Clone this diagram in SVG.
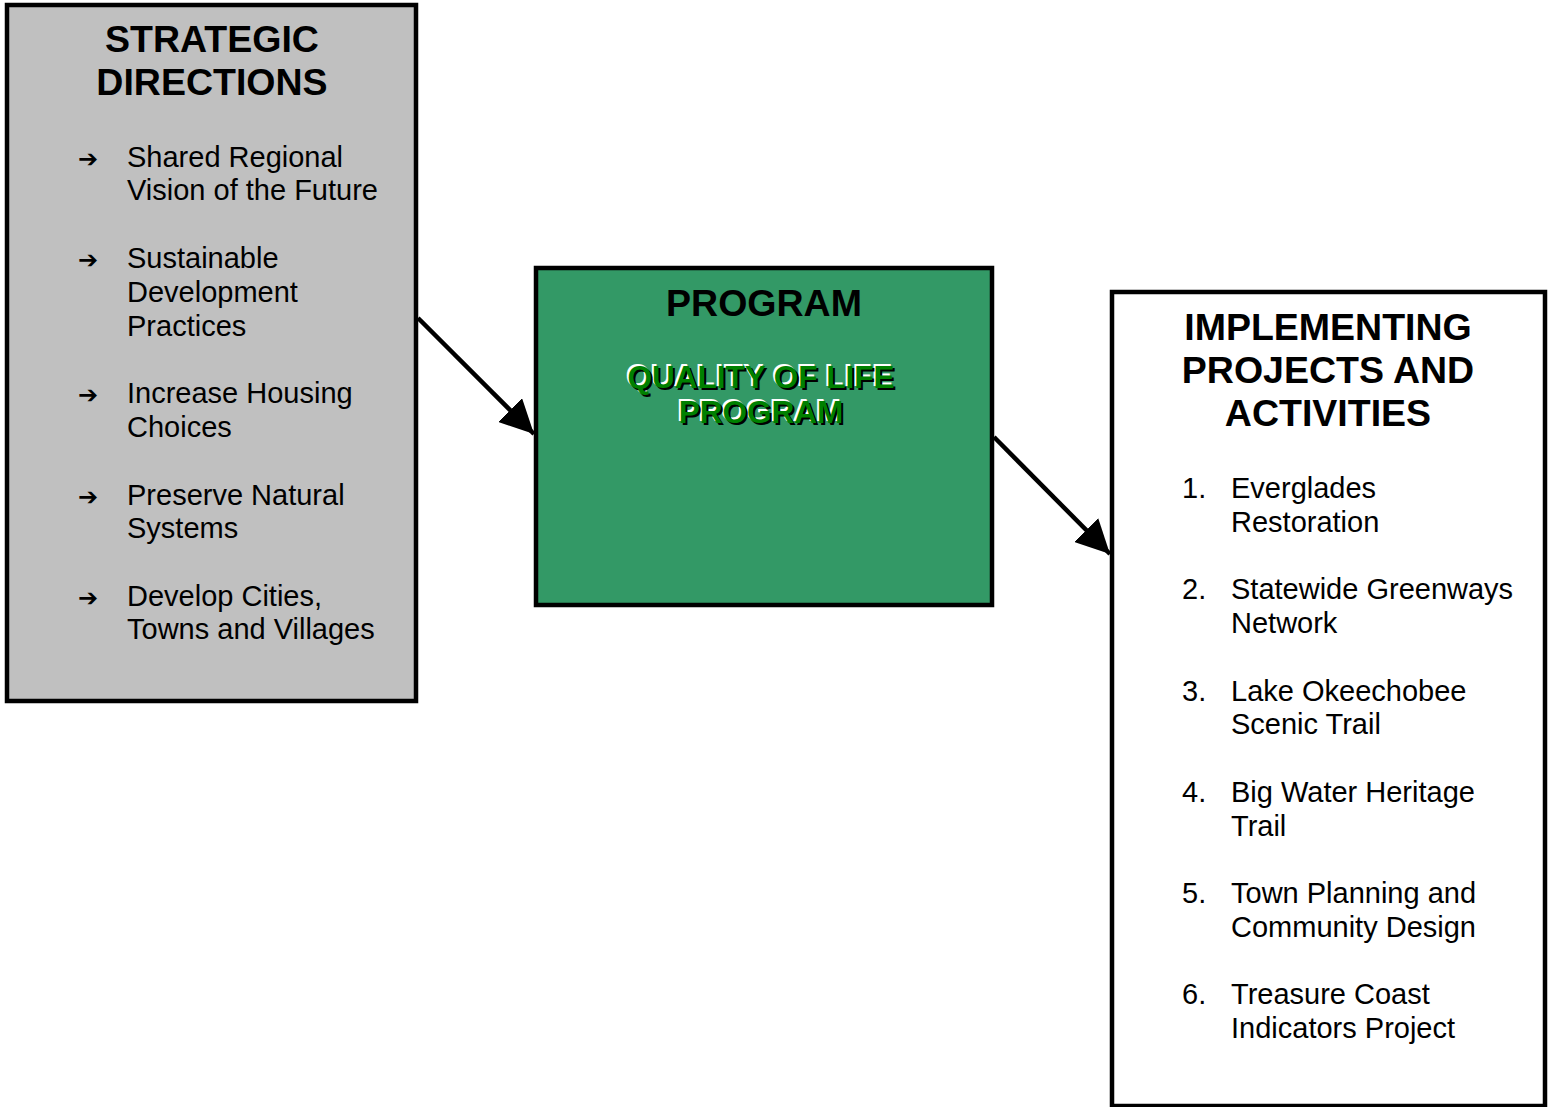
<svg xmlns="http://www.w3.org/2000/svg" width="1551" height="1107" viewBox="0 0 1551 1107">
<defs>
<style>
.box{stroke:#000;stroke-width:4.5}
.t{font-family:"Liberation Sans",Arial,sans-serif;fill:#000}
.h{font-size:37.5px;font-weight:bold;text-anchor:middle}
.b{font-size:29px}
.ar{font-size:24px;font-weight:bold;font-family:"DejaVu Sans",sans-serif}
.q{font-family:"Liberation Sans",Arial,sans-serif;font-size:31.5px;font-weight:bold;text-anchor:middle}
.con{stroke:#000;stroke-width:4.5;fill:none}
</style>
<marker id="ah" viewBox="0 0 10 10" refX="10" refY="5" markerWidth="7.5" markerHeight="7.5" markerUnits="strokeWidth" orient="auto">
<path d="M0,0 L10,5 L0,10 z" fill="#000"/>
</marker>
</defs>
<rect width="1551" height="1107" fill="#fff"/>
<g id="strategic">
<rect class="box" x="7" y="5" width="409" height="696" fill="#c0c0c0"/>
<text class="t h" x="212" y="52">STRATEGIC</text>
<text class="t h" x="212" y="95">DIRECTIONS</text>
<g class="t b">
<text class="ar" x="78" y="167">➔</text>
<text x="127" y="167">Shared Regional</text><text x="127" y="200">Vision of the Future</text>
<text class="ar" x="78" y="268">➔</text>
<text x="127" y="268">Sustainable</text><text x="127" y="302">Development</text><text x="127" y="336">Practices</text>
<text class="ar" x="78" y="403">➔</text>
<text x="127" y="403">Increase Housing</text><text x="127" y="437">Choices</text>
<text class="ar" x="78" y="505">➔</text>
<text x="127" y="505">Preserve Natural</text><text x="127" y="538">Systems</text>
<text class="ar" x="78" y="606">➔</text>
<text x="127" y="606">Develop Cities,</text><text x="127" y="639">Towns and Villages</text>
</g>
</g>
<g id="program">
<rect class="box" x="536" y="268" width="456" height="337" fill="#339966"/>
<text class="t h" x="764" y="316">PROGRAM</text>
<g class="q" fill="#fff" transform="translate(-2,-2)"><text x="761" y="388">QUALITY OF LIFE</text><text x="761" y="423">PROGRAM</text></g>
<g class="q" fill="#000" transform="translate(2,2)"><text x="761" y="388">QUALITY OF LIFE</text><text x="761" y="423">PROGRAM</text></g>
<g class="q" fill="#008000"><text x="761" y="388">QUALITY OF LIFE</text><text x="761" y="423">PROGRAM</text></g>
</g>
<g id="implementing">
<rect class="box" x="1112" y="292" width="433" height="814" fill="#fff"/>
<text class="t h" x="1328" y="340">IMPLEMENTING</text>
<text class="t h" x="1328" y="383">PROJECTS AND</text>
<text class="t h" x="1328" y="426">ACTIVITIES</text>
<g class="t b">
<text x="1182" y="498">1.</text><text x="1231" y="498">Everglades</text><text x="1231" y="532">Restoration</text>
<text x="1182" y="599">2.</text><text x="1231" y="599">Statewide Greenways</text><text x="1231" y="633">Network</text>
<text x="1182" y="701">3.</text><text x="1231" y="701">Lake Okeechobee</text><text x="1231" y="734">Scenic Trail</text>
<text x="1182" y="802">4.</text><text x="1231" y="802">Big Water Heritage</text><text x="1231" y="836">Trail</text>
<text x="1182" y="903">5.</text><text x="1231" y="903">Town Planning and</text><text x="1231" y="937">Community Design</text>
<text x="1182" y="1004">6.</text><text x="1231" y="1004">Treasure Coast</text><text x="1231" y="1038">Indicators Project</text>
</g>
</g>
<g id="connectors">
<line class="con" x1="418" y1="318" x2="534" y2="434" marker-end="url(#ah)"/>
<line class="con" x1="994" y1="437" x2="1110" y2="554" marker-end="url(#ah)"/>
</g>
</svg>
